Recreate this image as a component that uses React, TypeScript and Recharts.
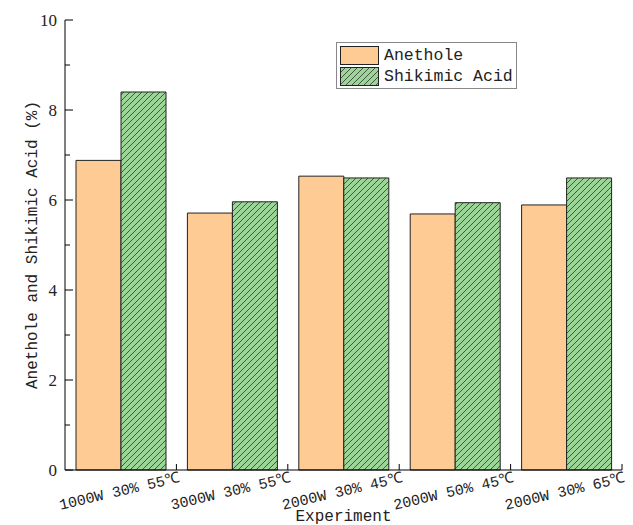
import { BarChart, Bar, XAxis, YAxis } from "recharts";

const experiments = [
  "1000W 30% 55℃",
  "3000W 30% 55℃",
  "2000W 30% 45℃",
  "2000W 50% 45℃",
  "2000W 30% 65℃",
];
const anethole = [6.88, 5.71, 6.53, 5.69, 5.89];
const shikimicAcid = [8.4, 5.96, 6.49, 5.94, 6.49];
const yTicks = [0, 1, 2, 3, 4, 5, 6, 7, 8, 9, 10];

const data = experiments.map((name, i) => ({
  name,
  anethole: anethole[i],
  shikimic: shikimicAcid[i],
}));

const W = 633;
const H = 525;
const MARGIN = { top: 20, right: 11, left: 15, bottom: 0 };
const Y_AXIS_W = 50;
const PLOT_W = W - MARGIN.left - MARGIN.right - Y_AXIS_W;
const HALF_BAND = PLOT_W / experiments.length / 2;

const MONO = "'Liberation Mono', monospace";
const SERIF = "'Liberation Serif', serif";

const YTick = (props: any) => {
  const { x, y, payload } = props;
  const major = payload.value % 2 === 0;
  return (
    <g>
      <line x1={x} y1={y} x2={x + (major ? 8 : 5)} y2={y} stroke="#000" />
      {major && (
        <text x={x - 8} y={y} dy={6} textAnchor="end" fontSize={17} fontFamily={SERIF} fill="#222">
          {payload.value}
        </text>
      )}
    </g>
  );
};

const XTick = (props: any) => {
  const { x, y, payload } = props;
  const tx = x + HALF_BAND;
  const lx = tx + 4;
  const ly = y + 12;
  return (
    <g>
      <line x1={tx} y1={y} x2={tx} y2={y - 6} stroke="#000" />
      <text
        x={lx}
        y={ly}
        textAnchor="end"
        fontSize={15}
        fontFamily={MONO}
        fill="#222"
        transform={`rotate(-13, ${lx}, ${ly})`}
      >
        {payload.value}
      </text>
    </g>
  );
};

const Swatch = ({ hatch }: { hatch: boolean }) => (
  <svg width={40} height={20} style={{ display: "block" }}>
    <rect x={0.5} y={0.5} width={38} height={18} fill={hatch ? "url(#hatch)" : "#FECB94"} stroke="#222" />
  </svg>
);

const LegendBox = () => (
  <div
    style={{
      position: "absolute",
      left: 336,
      top: 42,
      border: "1px solid #888",
      padding: "2px 3px 1px 3px",
      background: "#fff",
      fontFamily: MONO,
      fontSize: 16.5,
      color: "#222",
      lineHeight: "21px",
    }}
  >
    <div style={{ display: "flex", alignItems: "center", gap: 4 }}>
      <Swatch hatch={false} />
      <span>Anethole</span>
    </div>
    <div style={{ display: "flex", alignItems: "center", gap: 4 }}>
      <Swatch hatch={true} />
      <span>Shikimic Acid</span>
    </div>
  </div>
);

export default function App() {
  return (
    <div style={{ position: "absolute", left: 0, top: 0, width: W, height: H, background: "#fff" }}>
      <svg width={0} height={0} style={{ position: "absolute" }}>
        <defs>
          <pattern id="hatch" patternUnits="userSpaceOnUse" width={6} height={6}>
            <rect width={6} height={6} fill="#9BD597" />
            <path d="M-1,1 l2,-2 M0,6 l6,-6 M5,7 l2,-2" stroke="#333" strokeWidth={0.8} />
          </pattern>
        </defs>
      </svg>
      <BarChart
        width={W}
        height={H}
        data={data}
        margin={MARGIN}
        barCategoryGap={11}
        barGap={0}
      >
        <XAxis
          dataKey="name"
          height={55}
          tickSize={0}
          tickMargin={0}
          tick={<XTick />}
          interval={0}
          axisLine={{ stroke: "#000" }}
          label={{
            value: "Experiment",
            position: "insideBottom",
            offset: 4,
            fontFamily: MONO,
            fontSize: 16,
            fill: "#222",
          }}
        />
        <YAxis
          width={Y_AXIS_W}
          domain={[0, 10]}
          ticks={yTicks}
          interval={0}
          tickSize={0}
          tickMargin={0}
          tick={<YTick />}
          axisLine={{ stroke: "#000" }}
          label={{
            value: "Anethole and Shikimic Acid (%)",
            angle: -90,
            position: "insideLeft",
            offset: 16,
            style: { textAnchor: "middle" },
            fontFamily: MONO,
            fontSize: 16,
            fill: "#222",
          }}
        />
        <Bar dataKey="anethole" name="Anethole" fill="#FECB94" stroke="#222" strokeWidth={1} isAnimationActive={false} />
        <Bar dataKey="shikimic" name="Shikimic Acid" fill="url(#hatch)" stroke="#222" strokeWidth={1} isAnimationActive={false} />
      </BarChart>
      <LegendBox />
    </div>
  );
}
